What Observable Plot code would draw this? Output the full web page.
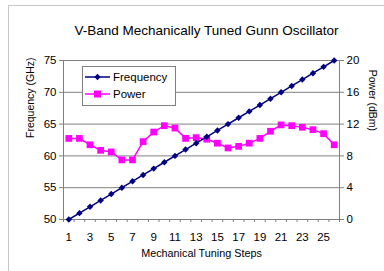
<!DOCTYPE html>
<html><head><meta charset="utf-8">
<script src="https://cdn.jsdelivr.net/npm/d3@7"></script>
<script src="https://cdn.jsdelivr.net/npm/@observablehq/plot@0.6"></script>
<style>
body{margin:0;background:#fff;font-family:"Liberation Sans",Arial,sans-serif;}
#wrap{position:relative;width:384px;height:271px;overflow:hidden;}
#border{position:absolute;left:8px;top:5px;width:420px;height:320px;border-left:1px solid #c8c8c8;border-top:1px solid #c8c8c8;pointer-events:none;}
#legend{position:absolute;left:82px;top:66px;width:92px;height:38px;border:1px solid #808080;background:#fff;font-size:11.5px;}
#legend .row{position:absolute;left:2px;height:14px;display:flex;align-items:center;}
#legend svg{display:block;}
#legend span{margin-left:2px;}
</style>
</head><body>
<div id="wrap">
<div id="chart"></div>
<div id="legend"></div>
<div id="border"></div>
</div>
<script>
const title = "V-Band Mechanically Tuned Gunn Oscillator";
const xLabel = "Mechanical Tuning Steps";
const yLeftLabel = "Frequency (GHz)";
const yRightLabel = "Power (dBm)";
const steps = [1,2,3,4,5,6,7,8,9,10,11,12,13,14,15,16,17,18,19,20,21,22,23,24,25,26];
const frequency = [50,51,52,53,54,55,56,57,58,59,60,61,62,63,64,65,66,67,68,69,70,71,72,73,74,75];
const power = [10.2,10.2,9.4,8.7,8.5,7.5,7.5,9.8,11.0,11.8,11.5,10.2,10.3,10.1,9.6,9.0,9.2,9.6,10.2,11.1,11.9,11.8,11.6,11.3,10.8,9.4];
const xTickLabels = [1,3,5,7,9,11,13,15,17,19,21,23,25];
const leftTicks = [50,55,60,65,70,75];
const rightTicks = [0,4,8,12,16,20];
const gridLines = [55,60,65,70,75];
const seriesNames = ["Frequency","Power"];
const freqColor = "#000080";
const powColor = "#ff00ff";

// map power (dBm, 0..20) onto the frequency axis (50..75)
const toF = p => 50 + (p - 0) * (75 - 50) / (20 - 0);
const fromF = f => (f - 50) * (20 - 0) / (75 - 50);

const dataF = steps.map((s,i) => ({step:s, v:frequency[i]}));
const dataP = steps.map((s,i) => ({step:s, v:toF(power[i])}));
const boundaries = [0.5, ...steps.map(s => s + 0.5)];

const gray = "#808080";
const chart = Plot.plot({
  width: 384, height: 271,
  marginLeft: 63, marginRight: 45, marginTop: 60, marginBottom: 52,
  style: {fontFamily: '"Liberation Sans", Arial, sans-serif', background: "transparent", color: "#000"},
  x: {type: "linear", domain: [0.5, 26.5]},
  y: {domain: [50, 75]},
  marks: [
    Plot.ruleY(gridLines, {stroke: gray, strokeWidth: 1}),
    Plot.ruleX([0.5, 26.5], {stroke: gray}),
    Plot.ruleY([50], {stroke: gray}),
    Plot.axisY(leftTicks, {anchor: "left", tickSize: 4, tickPadding: 3, fontSize: 11.5, label: null, stroke: gray}),
    Plot.axisY(rightTicks.map(toF), {anchor: "right", tickSize: 4, tickPadding: 3, fontSize: 11.5, label: null, stroke: gray, tickFormat: d => String(Math.round(fromF(d)))}),
    Plot.axisX(boundaries, {anchor: "bottom", tickSize: 3, tickFormat: () => "", label: null, stroke: gray}),
    Plot.axisX(xTickLabels, {anchor: "bottom", tickSize: 0, tickPadding: 13, fontSize: 11.5, label: null}),
    Plot.line(dataP, {x: "step", y: "v", stroke: powColor, strokeWidth: 1.5}),
    Plot.dot(dataP, {x: "step", y: "v", symbol: "square", r: 3.8, fill: powColor, stroke: "none"}),
    Plot.line(dataF, {x: "step", y: "v", stroke: freqColor, strokeWidth: 1.5}),
    Plot.dot(dataF, {x: "step", y: "v", symbol: "diamond2", r: 2.9, fill: freqColor, stroke: "none"}),
    Plot.text([title], {frameAnchor: "top", dy: -35, dx: 5, fontSize: 13.5, fill: "#000"}),
    Plot.text([yLeftLabel], {frameAnchor: "left", dx: -33, dy: -2, rotate: -90, fontSize: 10.5, fill: "#000"}),
    Plot.text([yRightLabel], {frameAnchor: "right", dx: 33, dy: -9, rotate: 90, fontSize: 10.5, fill: "#000"}),
    Plot.text([xLabel], {frameAnchor: "bottom", dy: 37, fontSize: 10.8, fill: "#000"})
  ]
});
document.getElementById("chart").appendChild(chart);

// legend
const lg = document.getElementById("legend");
const sym = [
  `<polygon points="12.5,-3.2 15.7,0 12.5,3.2 9.3,0" fill="${freqColor}"/>`,
  `<rect x="9" y="-3.5" width="7" height="7" fill="${powColor}"/>`
];
[freqColor, powColor].forEach((c, i) => {
  const row = document.createElement("div");
  row.className = "row";
  row.style.top = (i === 0 ? 3 : 20) + "px";
  row.innerHTML = `<svg width="26" height="14" viewBox="0 -7 26 14"><line x1="0" x2="25" y1="0" y2="0" stroke="${c}" stroke-width="1.5"/>${sym[i]}</svg><span>${seriesNames[i]}</span>`;
  lg.appendChild(row);
});
</script>
</body></html>
